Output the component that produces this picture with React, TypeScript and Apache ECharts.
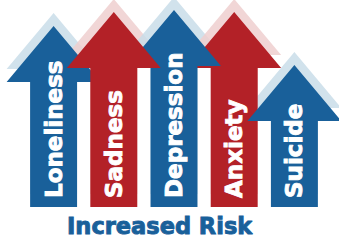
import React, { useEffect, useRef } from "react";
import * as echarts from "echarts";

const categories = ["Loneliness", "Sadness", "Depression", "Anxiety", "Suicide"];
const riskLevels = [181, 195, 197, 195, 142];
const footerText = "Increased Risk";

const BLUE = "#19609a";
const RED = "#b32127";
const BLUE_SHADOW = "#c9dde9";
const RED_SHADOW = "#efcfcf";
const palette = [BLUE, RED, BLUE, RED, BLUE];
const shadowPalette = [BLUE_SHADOW, RED_SHADOW, BLUE_SHADOW, RED_SHADOW, BLUE_SHADOW];
const layer = [1, 4, 3, 2, 5];

export default function App() {
  const ref = useRef<HTMLDivElement>(null);
  useEffect(() => {
    if (!ref.current) return;
    const chart = echarts.init(ref.current, null, { renderer: "svg" });
    const option: any = {
      animation: false,
      grid: { left: 23.5, right: 14.5, top: 7, bottom: 33 },
      xAxis: { type: "category", data: categories, show: false, boundaryGap: true },
      yAxis: { type: "value", min: 0, max: 200, show: false },
      graphic: [
        {
          type: "text",
          x: 67,
          y: 225.5,
          style: {
            text: footerText,
            fill: BLUE,
            stroke: BLUE,
            lineWidth: 0.9,
            font: 'bold 22.5px "DejaVu Sans"',
            align: "left",
            verticalAlign: "middle",
          },
        },
      ],
      series: [
        {
          type: "custom",
          data: riskLevels.map((v, i) => [i, v]),
          renderItem: (params: any, api: any) => {
            const i = params.dataIndex;
            const tip = api.coord([api.value(0), api.value(1)]);
            const base = api.coord([api.value(0), 0]);
            const band = api.size([1, 0])[0];
            const cx = tip[0];
            const sw = band * 0.39;
            const hw = band * 0.78;
            const hh = 56;
            const pts = (dy: number) => [
              [cx, tip[1] - dy],
              [cx + hw, tip[1] + hh - dy],
              [cx + sw, tip[1] + hh - dy],
              [cx + sw, base[1] - dy],
              [cx - sw, base[1] - dy],
              [cx - sw, tip[1] + hh - dy],
              [cx - hw, tip[1] + hh - dy],
            ];
            return {
              type: "group",
              children: [
                {
                  type: "polygon",
                  z2: 0,
                  shape: { points: pts(13) },
                  style: { fill: shadowPalette[i], opacity: 0.85 },
                },
                {
                  type: "polygon",
                  z2: layer[i] * 2,
                  shape: { points: pts(0) },
                  style: { fill: palette[i] },
                },
                {
                  type: "text",
                  z2: layer[i] * 2 + 1,
                  x: cx,
                  y: 198,
                  rotation: Math.PI / 2,
                  style: {
                    text: categories[i],
                    fill: "#ffffff",
                    stroke: "#ffffff",
                    lineWidth: 0.9,
                    font: 'bold 23px "DejaVu Sans"',
                    align: "left",
                    verticalAlign: "middle",
                  },
                },
              ],
            };
          },
        },
      ],
    };
    chart.setOption(option);
    return () => chart.dispose();
  }, []);
  return (
    <div
      ref={ref}
      style={{ position: "fixed", left: 0, top: 0, width: 339, height: 240, background: "#fff" }}
    />
  );
}
